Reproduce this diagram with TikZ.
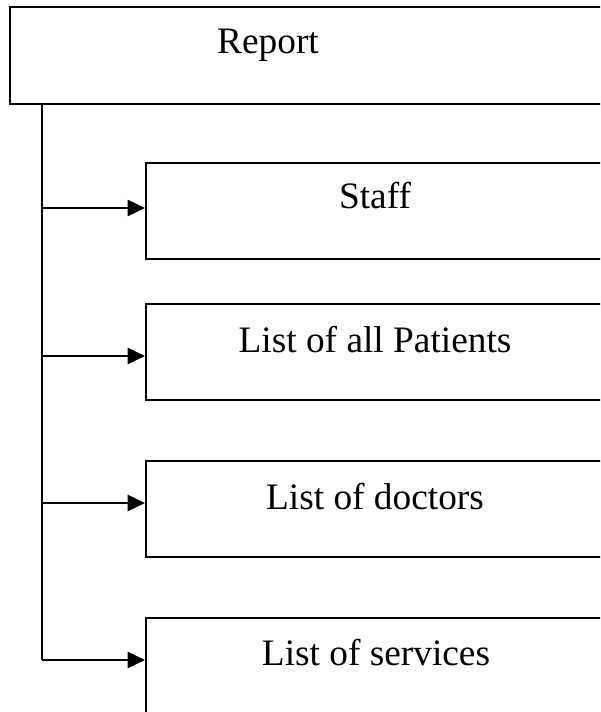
\documentclass[tikz,border=0pt]{standalone}
\usepackage{fontspec}
\setmainfont{Liberation Serif}
\usetikzlibrary{arrows.meta}
\begin{document}
\begin{tikzpicture}[x=0.75pt,y=-0.75pt,
  box/.style={draw,line width=1.6pt,rectangle,inner sep=0pt,anchor=north west,minimum height=72pt},
  lbl/.style={anchor=base,font=\fontsize{28}{32}\selectfont,inner sep=0pt},
  arr/.style={line width=1.8pt,-{Triangle[length=13pt,width=12pt]}},
  spine/.style={line width=1.8pt}]
\useasboundingbox (0,0) rectangle (600,712);
\clip (0,0) rectangle (600,712);
\node[box,minimum width=458pt,minimum height=72.75pt] (report) at (9,6) {};
\node[lbl] (treport) at (268,54) {Report};
\node[box,minimum width=356pt] (staff) at (145,162) {};
\node[lbl] (tstaff) at (375,209) {Staff};
\node[box,minimum width=356pt] (patients) at (145,303) {};
\node[lbl] (tpatients) at (375,352) {List of all Patients};
\node[box,minimum width=356pt] (doctors) at (145,460) {};
\node[lbl] (tdoctors) at (375,509) {List of doctors};
\node[box,minimum width=356pt] (services) at (145,617) {};
\node[lbl] (tservices) at (376,665) {List of services};
\coordinate (top) at (42,103);
\coordinate (s1) at (42,208);
\coordinate (s2) at (42,356);
\coordinate (s3) at (42,503);
\coordinate (s4) at (42,660);
\draw[spine] (top) -- (s4);
\draw[arr] (s1) -- (s1 -| staff.west);
\draw[arr] (s2) -- (s2 -| patients.west);
\draw[arr] (s3) -- (s3 -| doctors.west);
\draw[arr] (s4) -- (s4 -| services.west);
\end{tikzpicture}
\end{document}
